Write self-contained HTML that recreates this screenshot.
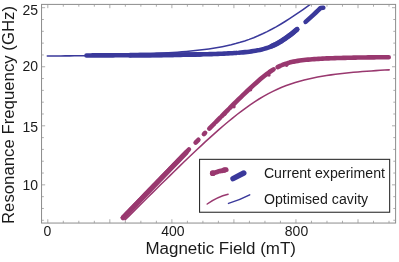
<!DOCTYPE html>
<html><head><meta charset="utf-8"><title>Resonance Frequency vs Magnetic Field</title>
<style>html,body{margin:0;padding:0;background:#fff;}body{width:399px;height:262px;overflow:hidden;font-family:"Liberation Sans",sans-serif;}</style>
</head><body>
<svg width="399" height="262" viewBox="0 0 399 262" style="display:block;will-change:transform;transform:translateZ(0)">
<rect width="399" height="262" fill="#fff"/>
<clipPath id="cp"><rect x="41.55" y="4.4" width="354.05" height="218.65"/></clipPath>
<g clip-path="url(#cp)" fill="none" stroke-linecap="round" stroke-linejoin="round">
<path d="M125.20,219.82L129.67,215.34L134.15,210.87L138.62,206.41L143.10,201.96L147.57,197.52L152.05,193.10L156.52,188.70L161.00,184.31L165.47,179.95L169.95,175.60L174.42,171.24L178.89,166.88L183.37,162.54L187.84,158.24L192.32,153.97L196.79,149.74L201.27,145.56L205.74,141.43L210.22,137.35L214.69,133.33L219.17,129.39L223.64,125.53L228.12,121.75L232.59,118.07L237.06,114.51L241.54,111.07L246.01,107.76L250.49,104.60L254.96,101.60L259.44,98.76L263.91,96.11L268.39,93.63L272.86,91.34L277.34,89.23L281.81,87.29L286.28,85.53L290.76,83.93L295.23,82.48L299.71,81.16L304.18,79.98L308.66,78.90L313.13,77.93L317.61,77.05L322.08,76.26L326.56,75.53L331.03,74.87L335.51,74.27L339.98,73.72L344.45,73.22L348.93,72.75L353.40,72.33L357.88,71.93L362.35,71.57L366.83,71.23L371.30,70.91L375.78,70.62L380.25,70.35L384.73,70.09L389.20,69.86" stroke="#99386f" stroke-width="1.55"/>
<path d="M47.30,55.97L51.79,55.96L56.27,55.94L60.76,55.91L65.25,55.89L69.73,55.86L74.22,55.83L78.71,55.79L83.19,55.75L87.68,55.71L92.16,55.64L96.65,55.54L101.14,55.44L105.62,55.32L110.11,55.21L114.60,55.08L119.08,54.95L123.57,54.81L128.06,54.67L132.54,54.51L137.03,54.34L141.52,54.17L146.00,53.98L150.49,53.77L154.97,53.56L159.46,53.32L163.95,53.07L168.43,52.80L172.92,52.50L177.41,52.18L181.89,51.83L186.38,51.45L190.87,51.04L195.35,50.58L199.84,50.08L204.33,49.53L208.81,48.92L213.30,48.24L217.78,47.50L222.27,46.67L226.76,45.74L231.24,44.71L235.73,43.57L240.22,42.31L244.70,40.90L249.19,39.36L253.68,37.66L258.16,35.80L262.65,33.79L267.14,31.62L271.62,29.30L276.11,26.83L280.59,24.23L285.08,21.50L289.57,18.66L294.05,15.72L298.54,12.69L303.03,9.57L307.51,6.38L312.00,3.12" stroke="#3a399b" stroke-width="1.55"/>
<path d="M122.80,217.72L124.87,215.58L126.93,213.44L129.00,211.30L131.06,209.17L133.13,207.03L135.19,204.89L137.26,202.75L139.32,200.62L141.39,198.48L143.46,196.35L145.52,194.21L147.59,192.08L149.65,189.94L151.72,187.81L153.78,185.67L155.85,183.54L157.92,181.41L159.98,179.28L162.05,177.14L164.11,175.01L166.18,172.88L168.24,170.75L170.31,168.63L172.38,166.50L174.44,164.37L176.51,162.25L178.57,160.12L180.64,158.00L182.70,155.87L184.77,153.75L186.83,151.63L188.90,149.51" stroke="#99386f" stroke-width="4.6"/>
<path d="M195.60,142.64L198.40,139.78" stroke="#99386f" stroke-width="4.6"/>
<path d="M203.90,134.16L205.10,132.94" stroke="#99386f" stroke-width="4.6"/>
<path d="M209.30,128.67L214.40,123.49" stroke="#99386f" stroke-width="4.6"/>
<path d="M216.00,121.87L220.20,117.63" stroke="#99386f" stroke-width="4.6"/>
<path d="M221.80,116.02L224.90,112.91L228.00,109.81" stroke="#99386f" stroke-width="4.6"/>
<path d="M229.70,108.11L231.89,105.93L234.09,103.76L236.28,101.60L238.48,99.45L240.68,97.32L242.87,95.19L245.06,93.09L247.26,91.00L249.46,88.94L251.65,86.91L253.84,84.90L256.04,82.93L258.24,81.00L260.43,79.12L262.62,77.30L264.82,75.54L267.01,73.86L269.21,72.26L271.41,70.76L273.60,69.36" stroke="#99386f" stroke-width="4.6"/>
<path d="M277.60,67.11L280.20,65.85" stroke="#99386f" stroke-width="4.6"/>
<path d="M282.40,64.91L285.20,63.87" stroke="#99386f" stroke-width="4.6"/>
<path d="M287.40,63.17L289.47,62.59L291.53,62.08L293.60,61.62L295.67,61.22L297.74,60.87L299.80,60.56L301.87,60.28L303.94,60.03L306.01,59.80L308.07,59.60L310.14,59.42L312.21,59.25L314.28,59.10L316.34,58.96L318.41,58.83L320.48,58.72L322.54,58.61L324.61,58.51L326.68,58.42L328.75,58.34L330.81,58.26L332.88,58.18L334.95,58.11L337.02,58.05L339.08,57.99L341.15,57.93L343.22,57.88L345.29,57.83L347.35,57.78L349.42,57.73L351.49,57.69L353.56,57.65L355.62,57.61L357.69,57.57L359.76,57.54L361.82,57.50L363.89,57.47L365.96,57.44L368.03,57.41L370.09,57.38L372.16,57.36L374.23,57.33L376.30,57.31L378.36,57.28L380.43,57.26L382.50,57.24L384.57,57.22L386.63,57.20L388.70,57.18" stroke="#99386f" stroke-width="4.6"/>
<path d="M86.50,55.45L88.55,55.44L90.61,55.43L92.66,55.42L94.71,55.41L96.77,55.40L98.82,55.39L100.87,55.39L102.93,55.38L104.98,55.37L107.03,55.36L109.09,55.35L111.14,55.34L113.19,55.33L115.25,55.32L117.30,55.31L119.35,55.29L121.41,55.28L123.46,55.27L125.52,55.26L127.57,55.25L129.62,55.23L131.68,55.22L133.73,55.21L135.78,55.19L137.84,55.18L139.89,55.16L141.94,55.15L144.00,55.13L146.05,55.12L148.10,55.10L150.16,55.08L152.21,55.06L154.26,55.05L156.32,55.03L158.37,55.01L160.42,54.99L162.48,54.97L164.53,54.94L166.58,54.92L168.64,54.90L170.69,54.87L172.74,54.85L174.80,54.82L176.85,54.79L178.90,54.77L180.96,54.74L183.01,54.71L185.06,54.67L187.12,54.64L189.17,54.60L191.22,54.57L193.28,54.53L195.33,54.49L197.38,54.45L199.44,54.40L201.49,54.35L203.55,54.31L205.60,54.25L207.65,54.20L209.71,54.14L211.76,54.08L213.81,54.01L215.87,53.94L217.92,53.87L219.97,53.79L222.03,53.71L224.08,53.62L226.13,53.52L228.19,53.42L230.24,53.31L232.29,53.19L234.35,53.06L236.40,52.92" stroke="#3a399b" stroke-width="4.6"/>
<path d="M238.90,52.73L240.98,52.56L243.06,52.37L245.15,52.16L247.23,51.93L249.31,51.68L251.39,51.39L253.47,51.08L255.56,50.73L257.64,50.34L259.72,49.91L261.80,49.42L263.89,48.87L265.97,48.25L268.05,47.56L270.13,46.79L272.21,45.93L274.30,44.98L276.38,43.94L278.46,42.81L280.54,41.59L282.62,40.28L284.71,38.89L286.79,37.43L288.87,35.90L290.95,34.31L293.04,32.66L295.12,30.97L297.20,29.23" stroke="#3a399b" stroke-width="4.6"/>
<path d="M305.60,21.91L308.10,19.66L310.60,17.38L313.10,15.07L315.60,12.75L318.10,10.40L320.60,8.05L323.30,7.80" stroke="#3a399b" stroke-width="4.6"/>
<circle cx="214.2" cy="124.0" r="1.7" fill="#99386f" stroke="none"/>
<circle cx="224.8" cy="114.2" r="1.7" fill="#99386f" stroke="none"/>
<circle cx="234.0" cy="106.8" r="1.7" fill="#99386f" stroke="none"/>
<circle cx="250.6" cy="89.8" r="1.7" fill="#99386f" stroke="none"/>
<circle cx="269.0" cy="75.1" r="1.7" fill="#99386f" stroke="none"/>
<circle cx="286.6" cy="65.3" r="1.7" fill="#99386f" stroke="none"/>
<path d="M272.00,46.02L273.92,45.16L275.83,44.22L277.75,43.21L279.66,42.12L281.58,40.95L283.49,39.71L285.41,38.41L287.32,37.04L289.24,35.62L291.15,34.15L293.07,32.63L294.98,31.08L296.90,29.49" stroke="#3a399b" stroke-width="5.1"/>
<path d="M130.00,55.23L132.41,55.22L134.83,55.20L137.24,55.18L139.66,55.16L142.07,55.15L144.48,55.13L146.90,55.11L149.31,55.09L151.72,55.07L154.14,55.05L156.55,55.02L158.97,55.00L161.38,54.98L163.79,54.95L166.21,54.93L168.62,54.90L171.03,54.87L173.45,54.84L175.86,54.81L178.28,54.77L180.69,54.74L183.10,54.70L185.52,54.67L187.93,54.63L190.34,54.58L192.76,54.54L195.17,54.49L197.59,54.44L200.00,54.39" stroke="#3a399b" stroke-width="4.8"/>
<path d="M123.15,217.71L125.33,215.46L127.50,213.21L129.68,210.96L131.85,208.71L134.03,206.45L136.21,204.20L138.38,201.95L140.56,199.70L142.73,197.45L144.91,195.20L147.08,192.95L149.26,190.71L151.44,188.46L153.61,186.21L155.79,183.96L157.96,181.72L160.14,179.47L162.32,177.23L164.49,174.98L166.67,172.74L168.84,170.49L171.02,168.25L173.19,166.01L175.37,163.77L177.55,161.53L179.72,159.29L181.90,157.06L184.07,154.82L186.25,152.59" stroke="#99386f" stroke-width="5.0"/>
</g>
<g stroke="#8c8c8c" stroke-width="1" fill="none">
<rect x="41.55" y="4.4" width="354.05" height="218.65"/>
<path d="M47.80,223.05v-3.8M47.80,4.4v3.8M63.31,223.05v-2.3M63.31,4.4v2.3M78.82,223.05v-2.3M78.82,4.4v2.3M94.33,223.05v-2.3M94.33,4.4v2.3M109.84,223.05v-3.8M109.84,4.4v3.8M125.35,223.05v-2.3M125.35,4.4v2.3M140.86,223.05v-2.3M140.86,4.4v2.3M156.37,223.05v-2.3M156.37,4.4v2.3M171.88,223.05v-3.8M171.88,4.4v3.8M187.39,223.05v-2.3M187.39,4.4v2.3M202.90,223.05v-2.3M202.90,4.4v2.3M218.41,223.05v-2.3M218.41,4.4v2.3M233.92,223.05v-3.8M233.92,4.4v3.8M249.43,223.05v-2.3M249.43,4.4v2.3M264.94,223.05v-2.3M264.94,4.4v2.3M280.45,223.05v-2.3M280.45,4.4v2.3M295.96,223.05v-3.8M295.96,4.4v3.8M311.47,223.05v-2.3M311.47,4.4v2.3M326.98,223.05v-2.3M326.98,4.4v2.3M342.49,223.05v-2.3M342.49,4.4v2.3M358.00,223.05v-3.8M358.00,4.4v3.8M373.51,223.05v-2.3M373.51,4.4v2.3M389.02,223.05v-2.3M389.02,4.4v2.3M41.55,7.70h3.6M395.6,7.70h-3.6M41.55,19.51h2.3M395.6,19.51h-2.3M41.55,31.32h2.3M395.6,31.32h-2.3M41.55,43.13h2.3M395.6,43.13h-2.3M41.55,54.94h2.3M395.6,54.94h-2.3M41.55,66.75h3.6M395.6,66.75h-3.6M41.55,78.56h2.3M395.6,78.56h-2.3M41.55,90.37h2.3M395.6,90.37h-2.3M41.55,102.18h2.3M395.6,102.18h-2.3M41.55,113.99h2.3M395.6,113.99h-2.3M41.55,125.80h3.6M395.6,125.80h-3.6M41.55,137.61h2.3M395.6,137.61h-2.3M41.55,149.42h2.3M395.6,149.42h-2.3M41.55,161.23h2.3M395.6,161.23h-2.3M41.55,173.04h2.3M395.6,173.04h-2.3M41.55,184.85h3.6M395.6,184.85h-3.6M41.55,196.66h2.3M395.6,196.66h-2.3M41.55,208.47h2.3M395.6,208.47h-2.3M41.55,220.28h2.3M395.6,220.28h-2.3" stroke="#989898" stroke-width="0.8"/>
</g>
<rect x="199.55" y="159.35" width="190.1" height="52.9" fill="#fff" stroke="#2e2e2e" stroke-width="1.1"/>
<g fill="none" stroke-linecap="round" stroke-linejoin="round">
<path d="M212.40,173.20C212.92,173.08 214.40,172.82 215.50,172.50C216.60,172.18 217.83,171.62 219.00,171.30C220.17,170.98 221.30,170.87 222.50,170.60C223.70,170.33 225.58,169.85 226.20,169.70" stroke="#99386f" stroke-width="4.8"/>
<circle cx="212.8" cy="173.2" r="2.9" fill="#99386f" stroke="none"/><circle cx="224.3" cy="170.0" r="2.7" fill="#99386f" stroke="none"/>
<path d="M233.0,178.7L243.8,173.0" stroke="#3a399b" stroke-width="5.4"/>
<path d="M207.2,204.0Q217.4,196.9 228.1,194.3" stroke="#99386f" stroke-width="1.5"/>
<path d="M228.5,203.4Q239.2,200.3 249.7,194.9" stroke="#3a399b" stroke-width="1.5"/>
</g>
<g font-family="Liberation Sans, sans-serif" fill="#1a1a1a">
<text x="263.9" y="177.8" font-size="14.15">Current experiment</text>
<text x="263.9" y="204.1" font-size="14.15" textLength="104.3">Optimised cavity</text>
<text transform="translate(47.3,236.2) scale(0.995,1)" font-size="14.1" text-anchor="middle">0</text>
<text transform="translate(172.9,236.2) scale(0.995,1)" font-size="14.1" text-anchor="middle">400</text>
<text transform="translate(296.5,236.2) scale(0.995,1)" font-size="14.1" text-anchor="middle">800</text>
<text transform="translate(38.0,14.600000000000001) scale(0.995,1)" font-size="14.1" text-anchor="end">25</text>
<text transform="translate(38.0,71.35) scale(0.995,1)" font-size="14.1" text-anchor="end">20</text>
<text transform="translate(38.0,131.6) scale(0.995,1)" font-size="14.1" text-anchor="end">15</text>
<text transform="translate(38.0,189.54999999999998) scale(0.995,1)" font-size="14.1" text-anchor="end">10</text>
<text transform="translate(220.7,253.6) scale(1.0866,1)" font-size="15.6" text-anchor="middle">Magnetic Field (mT)</text>
<text transform="translate(14.0,115.0) rotate(-90) scale(1.0754,1)" font-size="15.6" text-anchor="middle">Resonance Frequency (GHz)</text>
</g>
</svg>
</body></html>
